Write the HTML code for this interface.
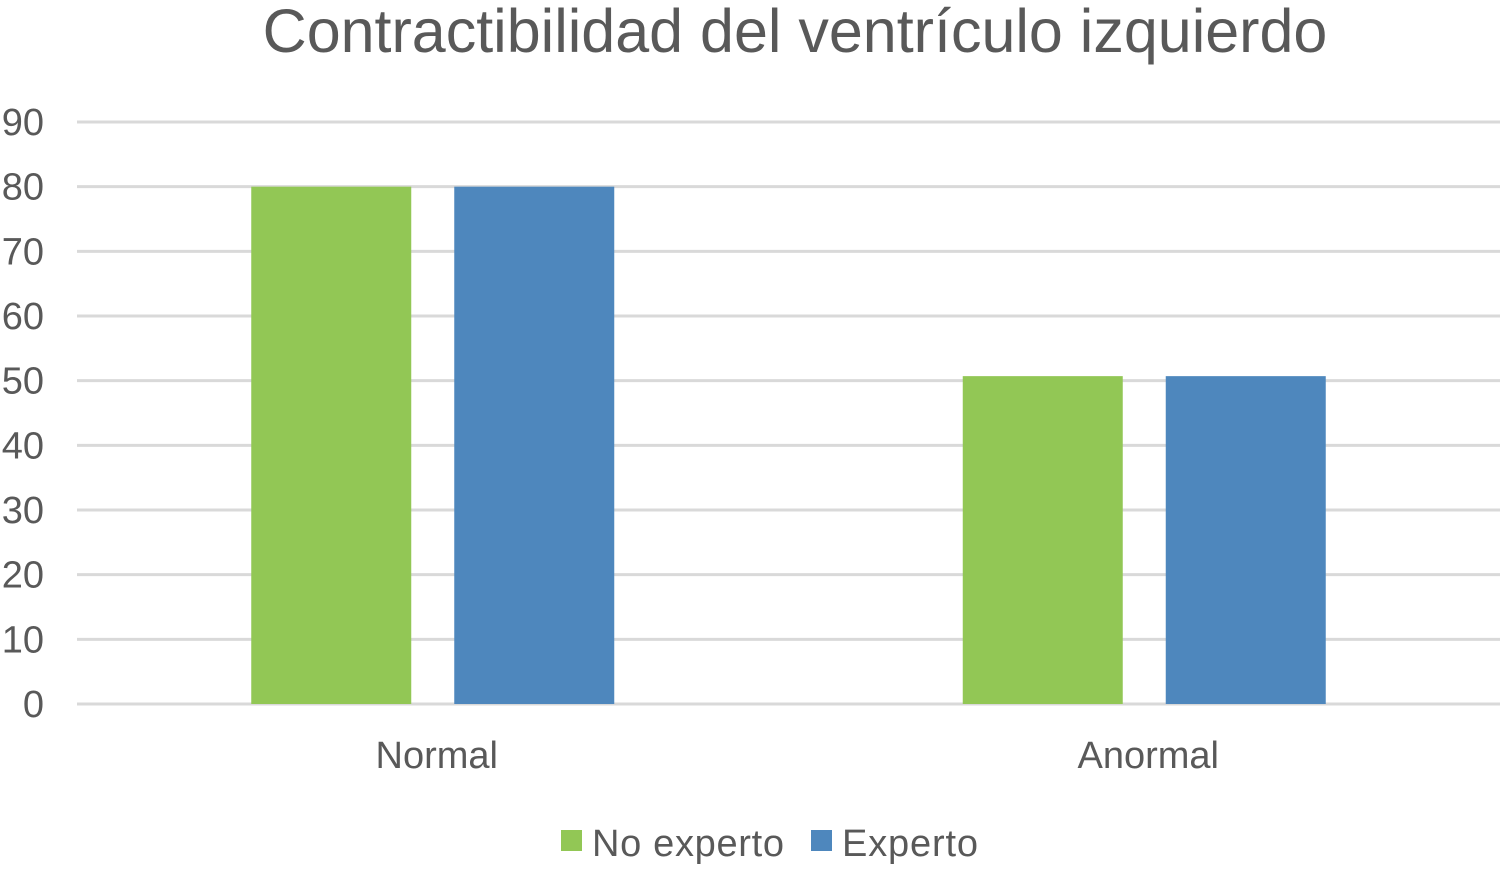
<!DOCTYPE html>
<html><head><meta charset="utf-8"><style>
body{margin:0;background:#fff;}
svg text{font-family:"Liberation Sans",Arial,sans-serif;fill:#595959;}
</style></head><body>
<svg id="chart" width="1500" height="864">
<text x="795" y="52" font-size="61" text-anchor="middle">Contractibilidad del ventrículo izquierdo</text>
<g id="grid"></g><g id="bars"></g><g id="labels"></g>
<g>
<rect x="561" y="830" width="21" height="21" fill="#92c755"/>
<text x="592" y="856" font-size="38" textLength="192">No experto</text>
<rect x="811" y="830" width="21" height="21" fill="#4e87bd"/>
<text x="842" y="856" font-size="38" textLength="136">Experto</text>
</g>
</svg>
<script>
const categories=["Normal","Anormal"];
const noExperto=[80,50.7];
const experto=[80,50.7];
const ticks=[0,10,20,30,40,50,60,70,80,90];
const ns="http://www.w3.org/2000/svg";
const x0=77,x1=1500,yBase=704,yTop=122,maxV=90;
const y=v=>yBase-(yBase-yTop)*v/maxV;
const bw=(x1-x0)/categories.length;
function mk(t,a,p){const e=document.createElementNS(ns,t);for(const k in a)e.setAttribute(k,a[k]);p.appendChild(e);return e;}
const grid=document.getElementById('grid'),bars=document.getElementById('bars'),labels=document.getElementById('labels');
ticks.forEach(t=>{
 const l=mk('line',{x1:x0,x2:x1,y1:y(t),y2:y(t),stroke:'#d9d9d9','stroke-width':3},grid);
 
 
 const tx=mk('text',{x:44,y:y(t)+13,'font-size':38,'text-anchor':'end'},grid);
 tx.textContent=t;
 
 
});
categories.forEach((c,i)=>{
 const cx=x0+bw*(i+0.5);
 const w=160,gap=43;
 const r1=mk('rect',{x:cx-gap/2-w,y:y(noExperto[i]),width:w,height:yBase-y(noExperto[i]),fill:'#92c755'},bars);
 
 
 const r2=mk('rect',{x:cx+gap/2,y:y(experto[i]),width:w,height:yBase-y(experto[i]),fill:'#4e87bd'},bars);
 
 
 const t=mk('text',{x:cx+4,y:768,'font-size':38,'text-anchor':'middle'},labels);
 t.textContent=c;
 
 
});
</script>
</body></html>
